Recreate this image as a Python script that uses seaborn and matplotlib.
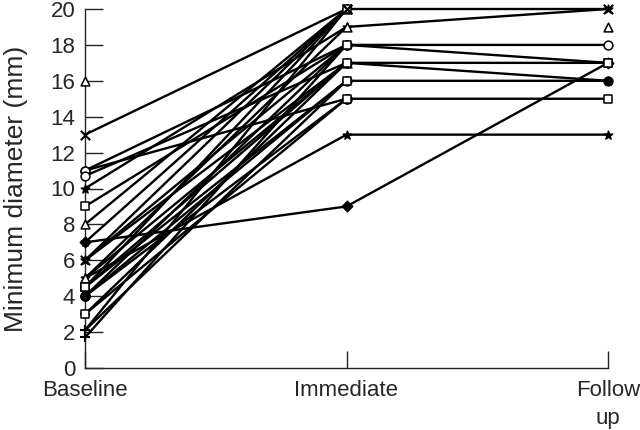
import numpy as np
import pandas as pd
import matplotlib
matplotlib.use("Agg")
import matplotlib.pyplot as plt
import seaborn as sns

# ---- data (mm) ----
time_labels = ["Baseline", "Immediate", "Follow\nup"]
baseline  = [13, 10, 11, 9, 4.5, 6, 4, 3, 5, 7, 16,
             11, 8, 7, 6, 6, 5, 5, 4.5, 4.5, 4, 4, 3, 2.1, 2.1, 1.7, 10.7]
immediate = [20, 19, 18, 18, 17, 17, 16, 15, 13, 9, np.nan,
             15, 20, 20, 18, 20, 17, 19, 16, 20, 15, 18, 17, 20, 16, 18, 17]
follow_up = [20, 20, 18, 17, 17, 16, 16, 15, 13, 17, 19,
             np.nan, np.nan, np.nan, np.nan, np.nan, np.nan, np.nan, np.nan,
             np.nan, np.nan, np.nan, np.nan, np.nan, np.nan, np.nan, np.nan]
markers   = ["x", "*", "o", "s", "s", "*", "o", "s", "*", "D", "^",
             "o", "^", "*", "*", "x", "^", "^", "s", "s", "o", "o", "+", "+", "+", "+", "o"]
filled    = [False, True, False, False, False, True, True, False, True, True, False,
             False, False, True, True, False, False, False, False, False, True, True,
             False, False, False, False, False]

# ---- long table ----
rows = []
for i in range(len(baseline)):
    vals = [baseline[i], immediate[i], follow_up[i]]
    seg = 0
    prev_ok = False
    for t, v in enumerate(vals):
        ok = not (isinstance(v, float) and np.isnan(v))
        if ok:
            if not prev_ok:
                seg += 1
            rows.append(dict(subject=i, seg=f"{i}_{seg}", t=t, value=v,
                             marker=markers[i], filled=filled[i]))
        prev_ok = ok
df = pd.DataFrame(rows)

sns.set_style("ticks")
plt.rcParams["font.family"] = ["Liberation Sans", "DejaVu Sans"]

fig = plt.figure(figsize=(6.4, 4.3), dpi=100)
ax = fig.add_axes([85/640, 1-368/430, (608-85)/640, (368-9)/430])

# lines (only between consecutive valid points)
seg_counts = df.groupby("seg")["t"].transform("count")
sns.lineplot(data=df[seg_counts > 1], x="t", y="value", units="seg",
             estimator=None, sort=False, color="black", lw=1.7,
             legend=False, ax=ax, clip_on=False)

# markers
for (m, f), sub in df.groupby(["marker", "filled"]):
    size = 28 if m == "D" else 40
    if m in ("x", "+"):
        sns.scatterplot(data=sub, x="t", y="value", marker=m, color="black",
                        s=45, linewidth=1.5, legend=False, ax=ax, clip_on=False,
                        zorder=3)
    else:
        sns.scatterplot(data=sub, x="t", y="value", marker=m,
                        facecolor="black" if f else "white", edgecolor="black",
                        s=size, linewidth=1.1, legend=False, ax=ax,
                        clip_on=False, zorder=3)

ax.set_xlim(0, 2)
ax.set_ylim(0, 20)
ax.set_xticks([0, 1, 2])
ax.set_xticklabels(time_labels, linespacing=1.4)
ax.set_yticks(np.arange(0, 21, 2))
ax.set_xlabel("")
ax.set_ylabel("Minimum diameter (mm)", fontsize=19, labelpad=16)

sns.despine(ax=ax)
for s in ("left", "bottom"):
    ax.spines[s].set_linewidth(1.0)
ax.tick_params(axis="y", direction="in", length=13, width=1.0,
               labelsize=16, pad=7)
ax.tick_params(axis="x", direction="in", length=12, width=1.0,
               labelsize=16, pad=9)

fig.savefig("out.png", dpi=100)
